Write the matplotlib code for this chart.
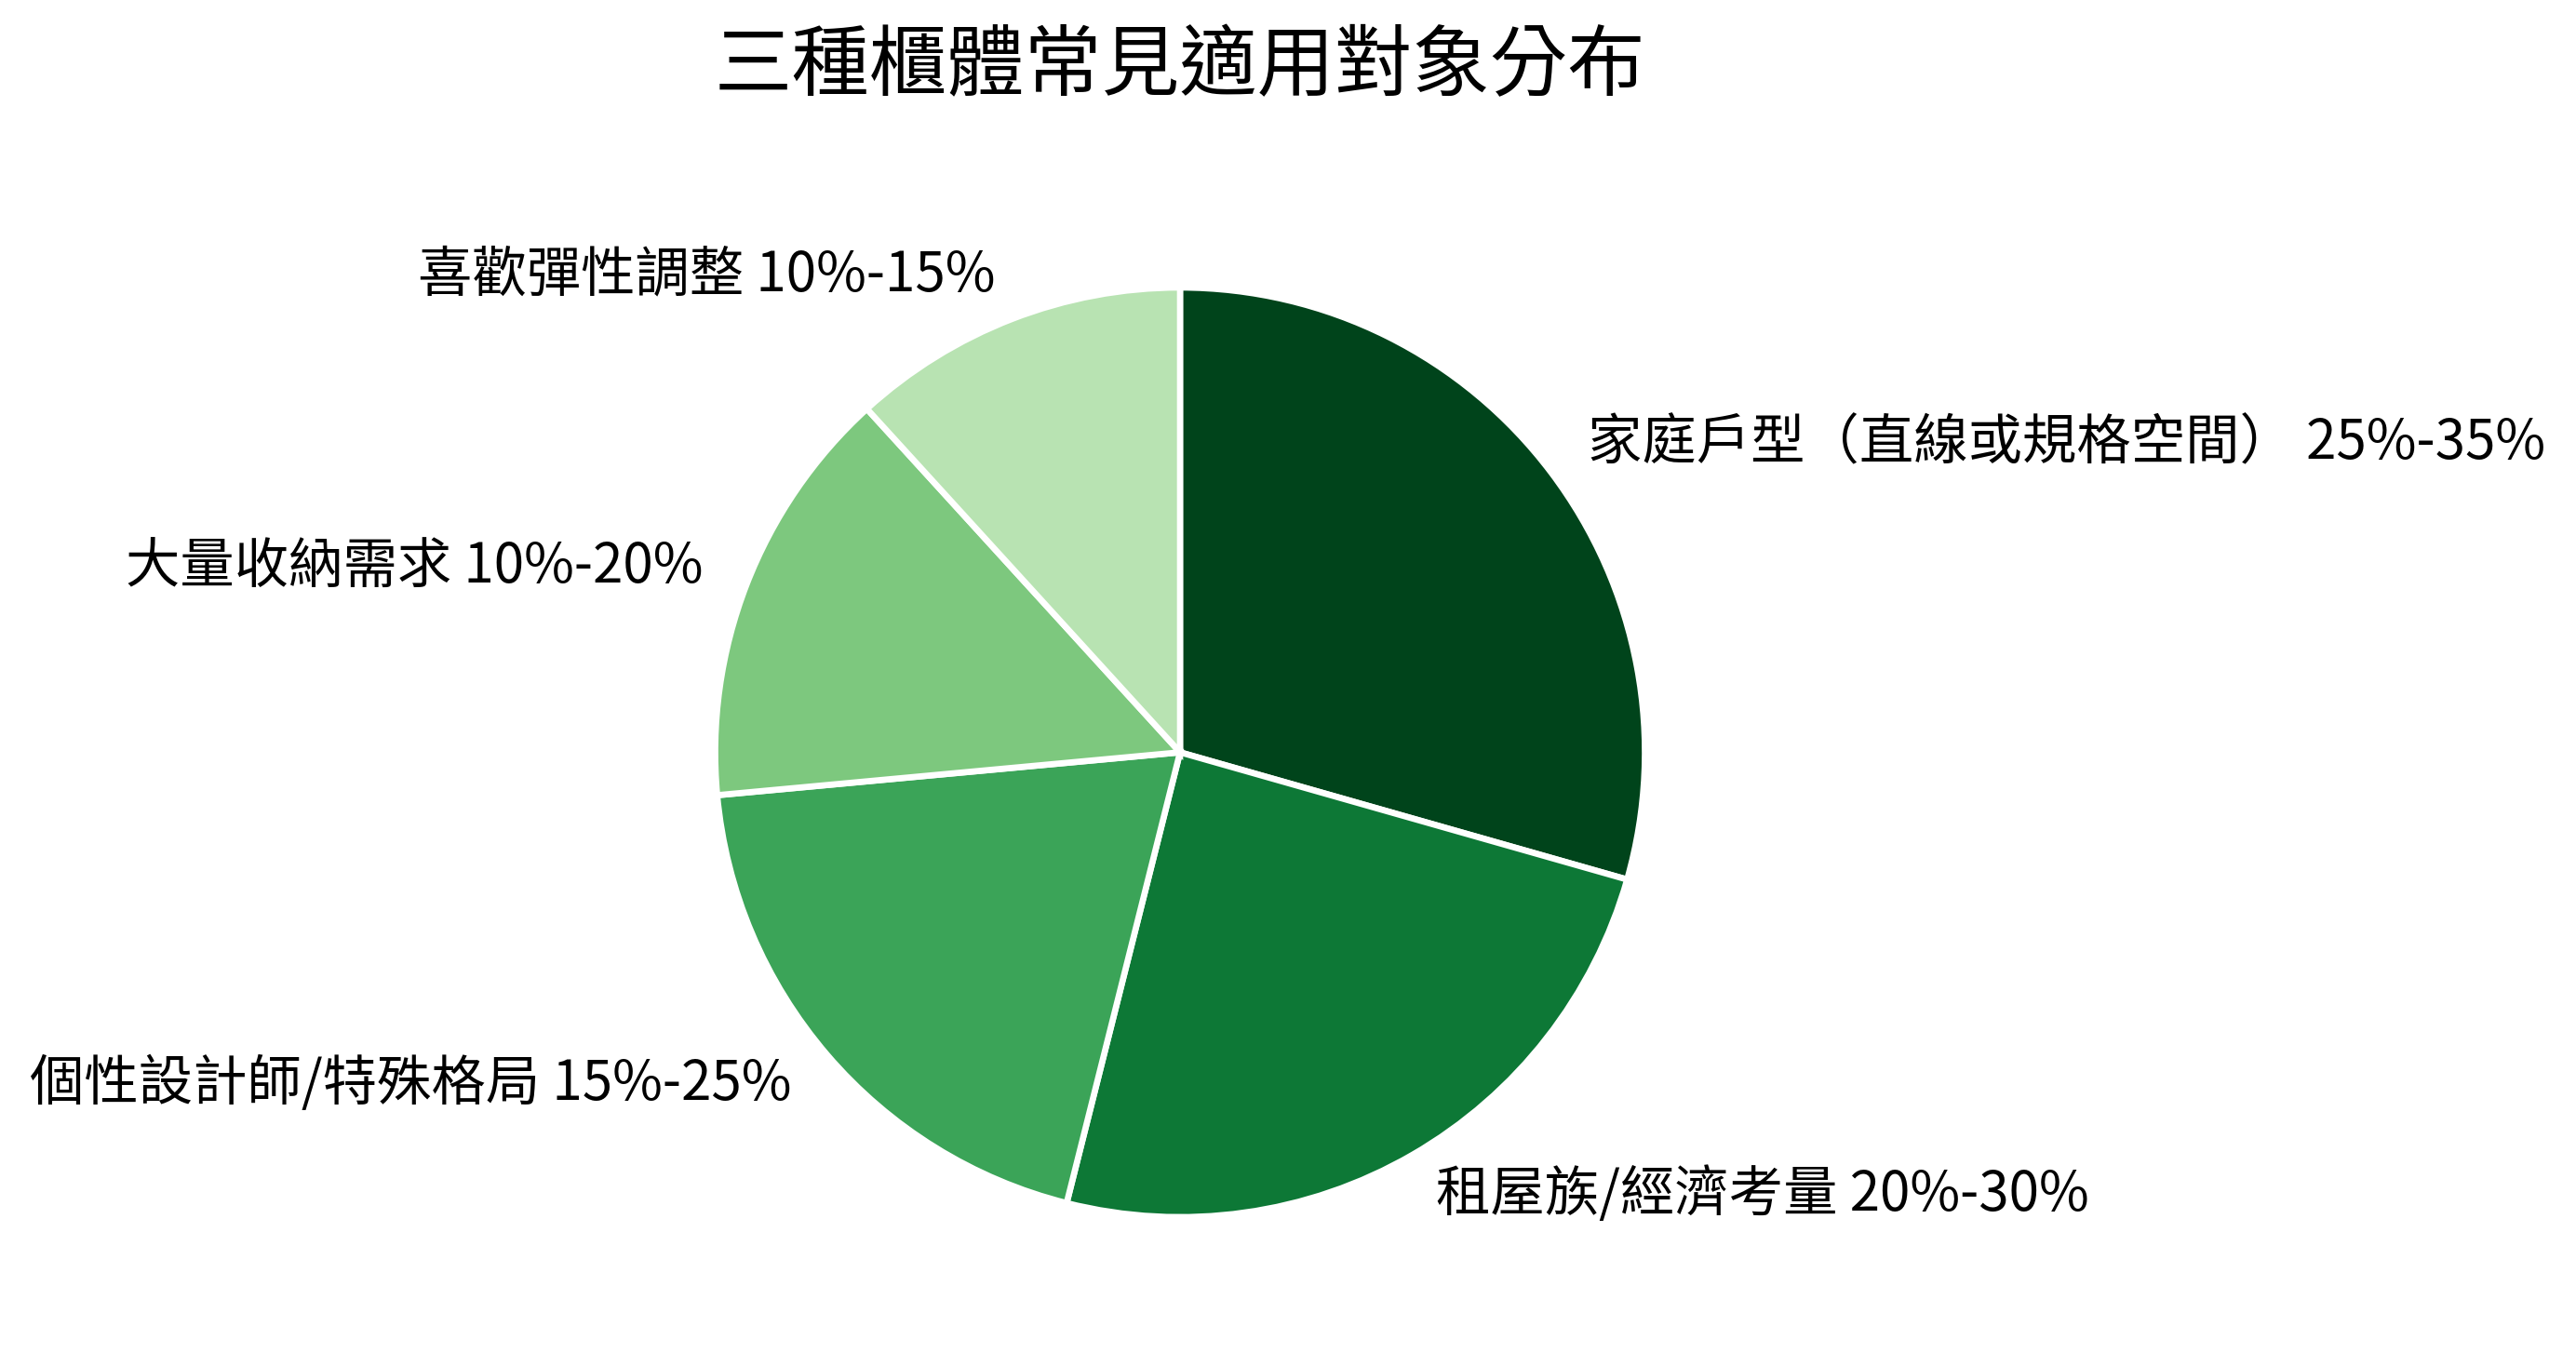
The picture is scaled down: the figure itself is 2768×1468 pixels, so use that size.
import numpy as np
import matplotlib
matplotlib.use("Agg")
import matplotlib.pyplot as plt

plt.rcParams['font.family'] = ['Noto Sans CJK TC', 'DejaVu Sans']

# 資料
groups = ['家庭戶型（直線或規格空間）', '租屋族/經濟考量', '個性設計師/特殊格局',
          '大量收納需求', '喜歡彈性調整']
ranges = ['25%-35%', '20%-30%', '15%-25%', '10%-20%', '10%-15%']
shares = [30, 25, 20, 15, 12]

labels = [f'{g} {r}' for g, r in zip(groups, ranges)]
colors = plt.cm.Greens(np.linspace(1.0, 0.3, len(shares)))

W, H, DPI = 2768, 1468, 300
fig = plt.figure(figsize=(W / DPI, H / DPI), dpi=DPI)

# 圓餅位置（像素換算成比例）
cx, cy, r = 1268, 808.5, 499.5
side = 2.5 * r
ax = fig.add_axes([(cx - side / 2) / W, (H - cy - side / 2) / H, side / W, side / H])

ax.pie(shares, labels=labels, colors=colors, startangle=90, counterclock=False,
       wedgeprops=dict(edgecolor='white', linewidth=1.6),
       textprops=dict(fontsize=14, color='black'))
ax.set_xlim(-1.25, 1.25)
ax.set_ylim(-1.25, 1.25)
ax.set_aspect('equal')
ax.set_title('三種櫃體常見適用對象分布', fontsize=20, pad=21)

fig.savefig('out.png', dpi=DPI, facecolor='white')
